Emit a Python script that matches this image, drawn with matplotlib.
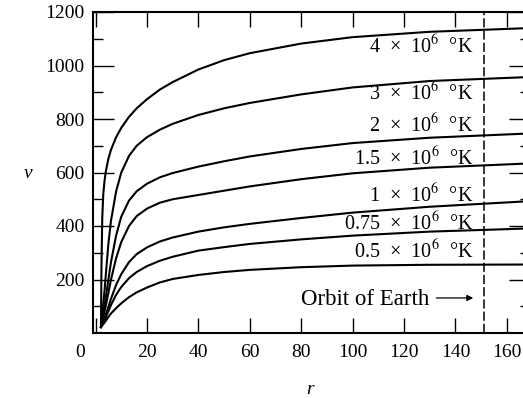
import matplotlib
matplotlib.use('Agg')
import matplotlib.pyplot as plt
from matplotlib.transforms import ScaledTranslation

plt.rcParams['font.family'] = ['Liberation Serif', 'DejaVu Serif']
plt.rcParams['mathtext.fontset'] = 'stix'

# heliocentric distance r (10^6 km) and wind speed v (km/s)
r = [2.1, 2.3, 2.6, 3, 3.5, 4, 5, 6, 8, 10, 13, 16, 20, 25, 30, 40, 50, 60, 80, 100, 130, 169]
v_4 = [25, 250, 430, 520, 570, 605, 652, 685, 732, 767, 808, 840, 874, 910, 938, 985, 1020, 1046, 1082, 1106, 1126, 1140]
v_3 = [25, 45, 75, 110, 160, 220, 335, 420, 530, 600, 662, 700, 732, 760, 782, 815, 840, 860, 892, 918, 942, 957]
v_2 = [22, 37, 55, 78, 105, 135, 200, 265, 365, 435, 495, 530, 558, 582, 598, 622, 642, 660, 688, 710, 730, 746]
v_15 = [22, 33, 46, 62, 82, 103, 150, 200, 280, 340, 400, 437, 465, 487, 500, 516, 532, 548, 575, 597, 618, 634]
v_1 = [22, 28, 36, 46, 58, 70, 98, 128, 180, 220, 265, 295, 320, 342, 357, 379, 395, 408, 430, 450, 472, 493]
v_075 = [22, 26, 32, 40, 49, 59, 82, 105, 143, 172, 205, 228, 250, 270, 285, 308, 321, 333, 350, 364, 379, 391]
v_05 = [22, 24, 28, 33, 39, 46, 60, 73, 93, 111, 134, 152, 170, 189, 202, 217, 228, 236, 246, 252, 255, 256]

curves = [v_4, v_3, v_2, v_15, v_1, v_075, v_05]
labels = ['4', '3', '2', '1.5', '1', '0.75', '0.5']
label_v = [1047, 871, 752, 628, 491, 385, 279]
earth_r = 151

fig = plt.figure(figsize=(5.23, 3.98), dpi=100)
ax = fig.add_axes([93/523, 65/398, (530-93)/523, 321/398])

for vals in curves:
    ax.plot(r, vals, color='black', lw=1.5)

for lab, lv in zip(labels, label_v):
    ax.text(147, lv, lab + '  ×  10$^{6}$  °K', ha='right', va='baseline', fontsize=14.5)

ax.axvline(earth_r, color='black', lw=1.1, ls=(0, (6, 2)))
ax.text(130, 105, 'Orbit of Earth', ha='right', va='baseline', fontsize=16.5)
ax.annotate('', xy=(148, 131), xytext=(131.5, 131),
            arrowprops=dict(arrowstyle='-|>', lw=0.9, color='black', mutation_scale=9))

ax.set_xlim(-1, 169)
ax.set_ylim(0, 1200)
ax.set_xticks(range(0, 161, 20))
ax.set_yticks(range(200, 1201, 200))
ax.set_yticks(range(100, 1200, 200), minor=True)
ax.tick_params(which='both', direction='in', top=True, right=True, labelsize=14, width=1)
ax.tick_params(axis='x', length=11, pad=8)
ax.tick_params(axis='y', which='major', length=15, pad=6)
ax.tick_params(axis='y', which='minor', length=7)
for s in ax.spines.values():
    s.set_linewidth(1.5)
ax.spines['right'].set_visible(False)

# nudge the zero label off the corner
lab0 = ax.get_xticklabels()[0]
lab0.set_transform(lab0.get_transform() + ScaledTranslation(-15/100, 0, fig.dpi_scale_trans))

fig.text(28/523, 1 - 173/398, 'v', style='italic', fontsize=14, ha='center', va='center')
fig.text(310/523, 1 - 390/398, 'r', style='italic', fontsize=14, ha='center', va='center')

fig.savefig('out.png', dpi=100)
